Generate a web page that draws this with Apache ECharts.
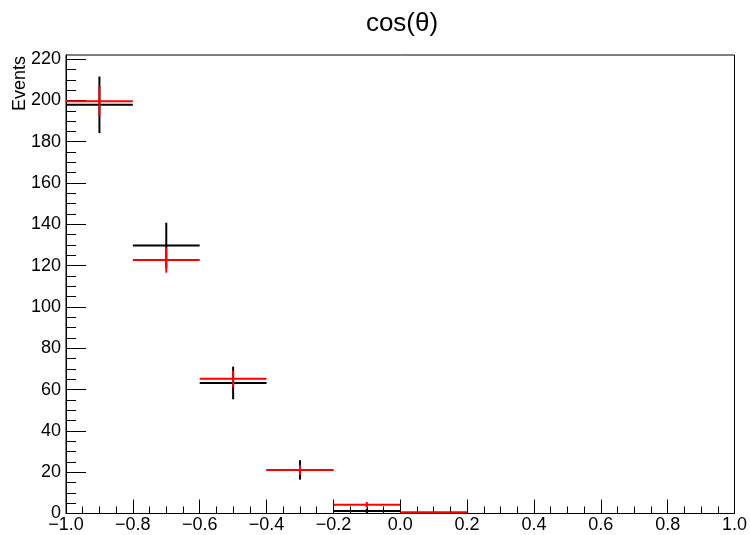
<!DOCTYPE html>
<html>
<head>
<meta charset="utf-8">
<script src="https://cdn.jsdelivr.net/npm/echarts@6/dist/echarts.min.js"></script>
<style>
html,body{margin:0;padding:0;background:#fff;}
#chart{width:750px;height:535px;}
</style>
</head>
<body>
<div id="chart"></div>
<script>
// ---- data ----
const binLow  = [-1.0, -0.8, -0.6, -0.4, -0.2, 0.0];
const binHigh = [-0.8, -0.6, -0.4, -0.2, 0.0, 0.2];
const dataValues = [197.9, 129.8, 63.2, 21.1, 1.2, null];
const dataErrors = [13.7, 11.0, 7.9, 4.7, 1.1, null];
const mcValues = [199.6, 122.7, 65.2, 21.1, 4.2, 0.6];
const mcErrors = [7.1, 6.1, 4.0, 2.4, 1.4, 0.3];
const yMajorTicks = [0, 20, 40, 60, 80, 100, 120, 140, 160, 180, 200, 220];
const yMinorTicks = [5,10,15,25,30,35,45,50,55,65,70,75,85,90,95,105,110,115,125,130,135,145,150,155,165,170,175,185,190,195,205,210,215];
const titleText = 'cos(θ)';
const yTitle = 'Events';

function buildItems(vals, errs) {
  const out = [];
  for (let i = 0; i < vals.length; i++) {
    if (vals[i] === null) continue;
    out.push([(binLow[i] + binHigh[i]) / 2, vals[i], errs[i], binLow[i], binHigh[i]]);
  }
  return out;
}

function makeRender(color) {
  return function (params, api) {
    const c = api.value(0), v = api.value(1), e = api.value(2), lo = api.value(3), hi = api.value(4);
    const pL = api.coord([lo, v]);
    const pR = api.coord([hi, v]);
    const pB = api.coord([c, Math.max(0, v - e)]);
    const pT = api.coord([c, v + e]);
    return {
      type: 'group',
      children: [
        { type: 'line', shape: { x1: pL[0], y1: pL[1], x2: pR[0], y2: pR[1] }, style: { stroke: color, lineWidth: 2 } },
        { type: 'line', shape: { x1: pB[0], y1: pB[1], x2: pT[0], y2: pT[1] }, style: { stroke: color, lineWidth: 2 } }
      ]
    };
  };
}

const font = 'Liberation Sans';
const chart = echarts.init(document.getElementById('chart'), null, { renderer: 'canvas' });
const yMax = 222;
chart.setOption({
  animation: false,
  backgroundColor: '#fff',
  textStyle: { fontFamily: font },
  title: {
    text: titleText,
    left: 397, top: 6, textAlign: 'center',
    textStyle: { fontFamily: font, fontSize: 26, fontWeight: 'normal', color: '#000' }
  },
  graphic: [{
    type: 'text', x: 11, y: 56, rotation: Math.PI / 2,
    style: { text: yTitle, fontFamily: font, fontSize: 18, fill: '#000', align: 'right', verticalAlign: 'top' }
  }],
  grid: { left: 66, right: 14, top: 55, bottom: 21.5, show: true, borderColor: '#000', borderWidth: 1, backgroundColor: '#fff' },
  xAxis: {
    type: 'value', min: -1, max: 1, interval: 0.2,
    axisLine: { show: true, onZero: false, lineStyle: { color: '#000', width: 1 } },
    axisTick: { show: true, inside: true, length: 14, lineStyle: { color: '#000', width: 1 } },
    minorTick: { show: true, splitNumber: 4, length: 7, lineStyle: { color: '#000', width: 1 } },
    splitLine: { show: false },
    axisLabel: {
      margin: 3, fontFamily: font, fontSize: 18, color: '#000', showMinLabel: true, showMaxLabel: true,
      formatter: function (v) { return (v < -1e-9 ? '\u2212' : '') + Math.abs(v).toFixed(1); }
    }
  },
  yAxis: [{
    type: 'value', min: 0, max: yMax, position: 'left',
    axisLine: { show: true, onZero: false, lineStyle: { color: '#000', width: 1 } },
    axisTick: { show: true, inside: true, length: 20, customValues: yMajorTicks, lineStyle: { color: '#000', width: 1 } },
    splitLine: { show: false },
    axisLabel: { margin: 5, fontFamily: font, fontSize: 18, color: '#000', customValues: yMajorTicks }
  }, {
    type: 'value', min: 0, max: yMax, position: 'left', offset: 0,
    axisLine: { show: false, onZero: false },
    axisTick: { show: true, inside: true, length: 10, customValues: yMinorTicks, lineStyle: { color: '#000', width: 1 } },
    splitLine: { show: false },
    axisLabel: { show: false }
  }],
  series: [{
    type: 'custom', name: 'data', xAxisIndex: 0, yAxisIndex: 0,
    renderItem: makeRender('#000000'),
    encode: { x: 0, y: 1 },
    data: buildItems(dataValues, dataErrors), z: 3
  }, {
    type: 'custom', name: 'mc', xAxisIndex: 0, yAxisIndex: 0,
    renderItem: makeRender('#ff0000'),
    encode: { x: 0, y: 1 },
    data: buildItems(mcValues, mcErrors), z: 4
  }]
});
</script>
</body>
</html>
